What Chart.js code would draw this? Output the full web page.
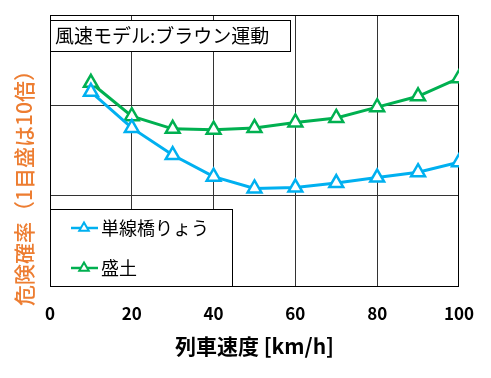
<!DOCTYPE html>
<html>
<head>
<meta charset="utf-8">
<script src="https://cdn.jsdelivr.net/npm/chart.js@4"></script>
<style>
  html, body { margin: 0; padding: 0; background: #fff; }
  #wrap { width: 491px; height: 378px; }
</style>
</head>
<body>
<div id="wrap"><canvas id="chart"></canvas></div>
<script>
// 列車速度 [km/h]
const speeds = [10, 20, 30, 40, 50, 60, 70, 80, 90, 100];
// 危険確率 (log scale, 1 division = 10x)
const bridge = [2.15, 1.75, 1.45, 1.21, 1.08, 1.09, 1.14, 1.20, 1.26, 1.37];
const embankment = [2.25, 1.88, 1.74, 1.73, 1.75, 1.81, 1.86, 1.98, 2.10, 2.30];
const seriesNames = ['単線橋りょう', '盛土'];
const seriesColors = ['#00B0F0', '#00B050'];

const FONT = '"Noto Sans CJK JP", "Noto Sans", sans-serif';

// draws the title box, legend box and y axis label on top of the plot
const overlay = {
    id: 'overlay',
    afterDraw(chart) {
        const ctx = chart.ctx;
        const area = chart.chartArea;
        ctx.save();

        // title box
        ctx.fillStyle = '#fff';
        ctx.strokeStyle = '#000';
        ctx.lineWidth = 1;
        ctx.fillRect(area.left, 20, 240, 31);
        ctx.strokeRect(area.left + 0.5, 20.5, 240, 31);
        ctx.fillStyle = '#000';
        ctx.font = '19px ' + FONT;
        ctx.textBaseline = 'middle';
        ctx.fillText('風速モデル:ブラウン運動', area.left + 5, 36);

        // legend box
        const lx = area.left, ly = 209, lw = 182, lh = area.bottom - 209;
        ctx.fillStyle = '#fff';
        ctx.fillRect(lx, ly, lw, lh);
        ctx.strokeRect(lx + 0.5, ly + 0.5, lw, lh);
        ctx.font = '18px ' + FONT;
        [228, 268].forEach((y, i) => {
            ctx.strokeStyle = seriesColors[i];
            ctx.lineWidth = 2.5;
            ctx.beginPath();
            ctx.moveTo(lx + 21, y);
            ctx.lineTo(lx + 48, y);
            ctx.stroke();
            const r = 5.5;
            ctx.beginPath();
            ctx.moveTo(lx + 34, y - r);
            ctx.lineTo(lx + 34 + r * 0.866, y + r * 0.5);
            ctx.lineTo(lx + 34 - r * 0.866, y + r * 0.5);
            ctx.closePath();
            ctx.fillStyle = '#fff';
            ctx.fill();
            ctx.lineWidth = 2;
            ctx.stroke();
            ctx.fillStyle = '#000';
            ctx.fillText(seriesNames[i], lx + 51, y);
        });

        // y axis label
        ctx.translate(24, 183);
        ctx.rotate(-Math.PI / 2);
        ctx.fillStyle = '#ED7D31';
        ctx.font = '500 21px ' + FONT;
        ctx.textAlign = 'center';
        ctx.textBaseline = 'middle';
        ctx.fillText('危険確率（1目盛は10倍）', 0, 0);
        ctx.restore();
    }
};

const makeSet = (i, values) => ({
    label: seriesNames[i],
    data: speeds.map((s, k) => ({ x: s, y: values[k] })),
    borderColor: seriesColors[i],
    backgroundColor: '#fff',
    borderWidth: 3,
    pointStyle: 'triangle',
    pointRadius: 8,
    pointBorderWidth: 2.5,
    pointBackgroundColor: '#fff',
    pointBorderColor: seriesColors[i],
    tension: 0
});

new Chart(document.getElementById('chart'), {
    type: 'line',
    data: {
        datasets: [makeSet(0, bridge), makeSet(1, embankment)]
    },
    options: {
        responsive: true,
        maintainAspectRatio: false,
        animation: false,
        layout: { padding: { top: 15, right: 31, left: 0, bottom: 0 } },
        plugins: {
            legend: { display: false },
            tooltip: { enabled: false }
        },
        scales: {
            x: {
                type: 'linear',
                min: 0,
                max: 100,
                ticks: {
                    stepSize: 20,
                    padding: 17,
                    color: '#000',
                    font: { family: FONT, size: 17, weight: 'bold' }
                },
                grid: { color: '#333', lineWidth: 1, drawTicks: false },
                border: { color: '#000', width: 1 },
                title: {
                    display: true,
                    text: '列車速度 [km/h]',
                    color: '#000',
                    font: { family: FONT, size: 21, weight: 'bold' },
                    padding: { top: 4, bottom: 19 }
                },
                afterFit(scale) { scale.height = 92; }
            },
            y: {
                min: 0,
                max: 3,
                ticks: { display: false, stepSize: 1 },
                grid: { color: '#333', lineWidth: 1, drawTicks: false },
                border: { color: '#000', width: 1 },
                afterFit(scale) { scale.width = 50; }
            },
            x2: {
                type: 'linear',
                position: 'top',
                min: 0,
                max: 100,
                ticks: { display: false },
                grid: { display: false, drawTicks: false },
                border: { color: '#000', width: 1 },
                afterFit(scale) { scale.height = 0; }
            },
            y2: {
                position: 'right',
                min: 0,
                max: 3,
                ticks: { display: false },
                grid: { display: false, drawTicks: false },
                border: { color: '#000', width: 1 },
                afterFit(scale) { scale.width = 0; }
            }
        }
    },
    plugins: [overlay]
});
</script>
</body>
</html>
